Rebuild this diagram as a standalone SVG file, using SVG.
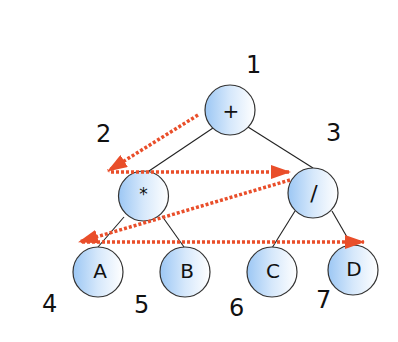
<svg xmlns="http://www.w3.org/2000/svg" width="398" height="342" viewBox="0 0 398 342">
<defs>
<linearGradient id="g" x1="0" y1="0" x2="1" y2="0">
<stop offset="0" stop-color="#9cc7f4"/>
<stop offset="0.5" stop-color="#d6e8fb"/>
<stop offset="1" stop-color="#ffffff"/>
</linearGradient>
<marker id="ah" viewBox="0 0 20 14" refX="19" refY="7" markerWidth="20" markerHeight="14" markerUnits="userSpaceOnUse" orient="auto">
<path d="M0,0 L20,7 L0,14 Z" fill="#e94e2a"/>
</marker>
<style>
.n circle{fill:url(#g);stroke:#333;stroke-width:1.2}
.n text{font-family:"DejaVu Sans",sans-serif;font-size:20px;fill:#111;text-anchor:middle}
.lbl{font-family:"DejaVu Sans",sans-serif;font-size:24px;fill:#111}
.e{stroke:#222;stroke-width:1.1;fill:none}
.a{stroke:#e94e2a;stroke-width:3.5;stroke-dasharray:3 2;fill:none;marker-end:url(#ah)}
</style>
</defs>
<rect width="398" height="342" fill="#fff"/>
<g id="edges">
<line class="e" x1="213" y1="128" x2="146" y2="173"/>
<line class="e" x1="248" y1="127" x2="313" y2="168"/>
<line class="e" x1="124" y1="217" x2="98" y2="247"/>
<line class="e" x1="162" y1="216" x2="184" y2="247"/>
<line class="e" x1="295" y1="211" x2="272" y2="248"/>
<line class="e" x1="332" y1="211" x2="351" y2="244"/>
</g>
<g id="nodes">
<g id="n-plus" class="n"><circle cx="230" cy="110" r="25"/><text x="231" y="118">+</text></g>
<g id="n-mul" class="n"><circle cx="143.5" cy="196" r="25"/><text x="143.5" y="200" style="font-size:17px">*</text></g>
<g id="n-div" class="n"><circle cx="313" cy="193" r="25"/><text x="314" y="201" style="font-size:22px">/</text></g>
<g id="n-A" class="n"><circle cx="98" cy="272" r="25"/><text x="100" y="278">A</text></g>
<g id="n-B" class="n"><circle cx="185" cy="272" r="25"/><text x="187" y="278">B</text></g>
<g id="n-C" class="n"><circle cx="272" cy="272" r="25"/><text x="273" y="278">C</text></g>
<g id="n-D" class="n"><circle cx="353" cy="270" r="25"/><text x="354" y="276">D</text></g>
</g>
<g id="connectors">
<path class="a" d="M198,115 L108,171"/>
<path class="a" d="M111,172 L290,172"/>
<path class="a" d="M290,180 L79,242"/>
<path class="a" d="M82,242 L364,242"/>
</g>
<g id="labels">
<text class="lbl" x="246" y="73">1</text>
<text class="lbl" x="96" y="142">2</text>
<text class="lbl" x="326" y="141">3</text>
<text class="lbl" x="42" y="312">4</text>
<text class="lbl" x="134" y="313">5</text>
<text class="lbl" x="229" y="316">6</text>
<text class="lbl" x="316" y="308">7</text>
</g>
</svg>
